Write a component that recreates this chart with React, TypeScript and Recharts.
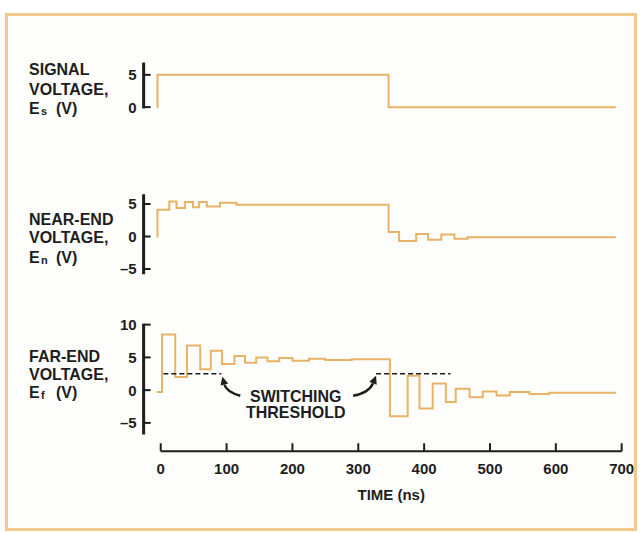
import React from 'react';
import { LineChart, Line, XAxis, YAxis, ReferenceLine, ReferenceDot } from 'recharts';

// ---------------- data ----------------
const timeTicks = [0, 100, 200, 300, 400, 500, 600, 700];

const signalTimes = [-6, -5, 346, 691];
const signalVolts = [0, 5, 0, 0];

const nearTimes = [-6, -5, 13, 24, 37, 49, 58, 70, 90, 115, 346, 362, 388, 406, 426, 446, 466, 691];
const nearVolts = [0, 4.1, 5.4, 4.4, 5.3, 4.5, 5.3, 4.6, 5.2, 4.9, 0.7, -0.7, 0.4, -0.5, 0.3, -0.35, -0.1, -0.1];

const farTimes = [-6, 2, 22, 40, 60, 76, 93, 112, 128, 145, 162, 180, 200, 225, 250, 290, 348, 375, 393, 413, 433, 448, 469, 489, 510, 530, 560, 590, 691];
const farVolts = [-0.3, 8.5, 2.0, 6.8, 3.2, 6.0, 4.0, 5.2, 4.2, 5.0, 4.4, 4.9, 4.5, 4.8, 4.6, 4.7, -4.0, 2.2, -2.8, 1.0, -1.8, 0.2, -1.1, -0.2, -0.8, -0.3, -0.6, -0.4, -0.4];

const signalTicks = [0, 5];
const nearTicks = [-5, 0, 5];
const farTicks = [-5, 0, 5, 10];

const switchingThreshold = 2.5;
const thresholdStarts = [4, 327];
const thresholdEnds = [92, 440];
const annotationTime = 205;
const annotationLines = ['SWITCHING', 'THRESHOLD'];

// ---------------- styling / layout ----------------
const INK = '#1d1d1d';
const TRACE = '#e8b366';
const BORDER = '#f1c98c';
const FONT = "'Liberation Sans', Arial, Helvetica, sans-serif";
const PAGE_W = 642;
const PAGE_H = 533;
const AXIS_X = 143.6;
const RIGHT_GAP = 20.3;
const X_DOMAIN: [number, number] = [-26, 700];

const rows = (ts: number[], vs: number[]) => ts.map((t, i) => ({ t, v: vs[i] }));

const fmt = (v: number) => (v < 0 ? `\u2013${Math.abs(v)}` : String(v));

const YTick = (props: any) => {
  const { x, y, payload } = props;
  return (
    <g>
      <line x1={x} x2={x + 7} y1={y} y2={y} stroke={INK} strokeWidth={2} />
      <text x={x - 7} y={y} dy="0.36em" textAnchor="end" fontFamily={FONT} fontWeight={700} fontSize={15} fill={INK}>
        {fmt(payload.value)}
      </text>
    </g>
  );
};

const XTick = (props: any) => {
  const { x, y, payload } = props;
  return (
    <g>
      <line x1={x} x2={x} y1={y} y2={y - 8} stroke={INK} strokeWidth={2} />
      <text x={x} y={y + 17} dy="0.36em" textAnchor="middle" fontFamily={FONT} fontWeight={700} fontSize={15} fill={INK}>
        {payload.value}
      </text>
    </g>
  );
};

const TimeLabel = (props: any) => {
  const vb = props.viewBox || { x: 0, y: 0, width: 0, height: 0 };
  const frac = (350 - X_DOMAIN[0]) / (X_DOMAIN[1] - X_DOMAIN[0]);
  return (
    <text x={vb.x + vb.width * frac} y={vb.y + 43} dy="0.36em" textAnchor="middle" fontFamily={FONT} fontWeight={700} fontSize={15} fill={INK}>
      TIME (ns)
    </text>
  );
};

const PanelTitle = (props: any) => {
  const { first, sub, ys, chartTop } = props;
  const y = ys.map((v: number) => v - chartTop);
  const common = { fontFamily: FONT, fontWeight: 700, fill: INK } as any;
  return (
    <g>
      <text x={29} y={y[0]} dy="0.36em" fontSize={16} {...common}>{first}</text>
      <text x={29} y={y[1]} dy="0.36em" fontSize={16} {...common}>VOLTAGE,</text>
      <text x={29} y={y[2]} dy="0.36em" fontSize={16} {...common}>E</text>
      <text x={41} y={y[2] + 3} dy="0.36em" fontSize={11} {...common}>{sub}</text>
      <text x={56} y={y[2]} dy="0.36em" fontSize={16} {...common}>(V)</text>
    </g>
  );
};

const LeftArrow = (props: any) => {
  const { cx, cy } = props;
  const hx = cx + 1, hy = cy + 3;
  const tx = cx + 19, ty = cy + 22;
  const qx = cx + 5, qy = cy + 18;
  const dx = hx - qx, dy = hy - qy;
  const len = Math.hypot(dx, dy);
  const ux = dx / len, uy = dy / len;
  const bx = hx - ux * 8, by = hy - uy * 8;
  return (
    <g>
      <path d={`M${tx},${ty} Q${qx},${qy} ${bx},${by}`} fill="none" stroke={INK} strokeWidth={2.5} />
      <path d={`M${hx},${hy} L${bx - uy * 4},${by + ux * 4} L${bx + uy * 4},${by - ux * 4} Z`} fill={INK} />
    </g>
  );
};

const RightArrow = (props: any) => {
  const { cx, cy } = props;
  const hx = cx, hy = cy + 2;
  const tx = cx - 23, ty = cy + 22;
  const qx = cx - 7, qy = cy + 19;
  const dx = hx - qx, dy = hy - qy;
  const len = Math.hypot(dx, dy);
  const ux = dx / len, uy = dy / len;
  const bx = hx - ux * 8, by = hy - uy * 8;
  return (
    <g>
      <path d={`M${tx},${ty} Q${qx},${qy} ${bx},${by}`} fill="none" stroke={INK} strokeWidth={2.5} />
      <path d={`M${hx},${hy} L${bx - uy * 4},${by + ux * 4} L${bx + uy * 4},${by - ux * 4} Z`} fill={INK} />
    </g>
  );
};

const AnnotationText = (props: any) => {
  const { cx, cy } = props;
  return (
    <g>
      {annotationLines.map((s, i) => (
        <text key={s} x={cx} y={cy + i * 16} dy="0.36em" textAnchor="middle" fontFamily={FONT} fontWeight={700} fontSize={16} fill={INK}>
          {s}
        </text>
      ))}
    </g>
  );
};

type PanelProps = {
  zeroY: number;
  ppv: number;
  yDomain: [number, number];
  data: { t: number; v: number }[];
  ticks: number[];
  axisSpan: [number, number];
  first: string;
  sub: string;
  titleYs: number[];
  showX?: boolean;
  extras?: React.ReactNode[];
};

function Panel(p: PanelProps) {
  const plotTop = p.zeroY - p.yDomain[1] * p.ppv;
  const plotH = (p.yDomain[1] - p.yDomain[0]) * p.ppv;
  const xH = p.showX ? 60 : 0;
  const h = plotH + xH;
  return (
    <div style={{ position: 'absolute', left: 0, top: plotTop, width: PAGE_W, height: h }}>
      <LineChart width={PAGE_W} height={h} data={p.data} margin={{ top: 0, right: RIGHT_GAP, bottom: 0, left: 0 }} style={{ overflow: 'visible' }}>
        <XAxis
          type="number"
          dataKey="t"
          domain={X_DOMAIN}
          allowDataOverflow
          ticks={timeTicks}
          interval={0}
          hide={!p.showX}
          height={xH || 1}
          axisLine={false}
          tickLine={false}
          tickSize={0}
          tickMargin={0}
          tick={<XTick />}
          label={p.showX ? <TimeLabel /> : undefined}
        />
        <YAxis
          type="number"
          domain={p.yDomain}
          allowDataOverflow
          ticks={p.ticks}
          interval={0}
          width={AXIS_X}
          axisLine={false}
          tickLine={false}
          tickSize={0}
          tickMargin={0}
          tick={<YTick />}
          label={<PanelTitle first={p.first} sub={p.sub} ys={p.titleYs} chartTop={plotTop} />}
        />
        <ReferenceLine
          segment={[{ x: X_DOMAIN[0], y: p.axisSpan[0] }, { x: X_DOMAIN[0], y: p.axisSpan[1] }]}
          stroke={INK}
          strokeWidth={3}
          ifOverflow="visible"
        />
        {p.showX && (
          <ReferenceLine
            segment={[{ x: timeTicks[0], y: p.yDomain[0] }, { x: timeTicks[timeTicks.length - 1], y: p.yDomain[0] }]}
            stroke={INK}
            strokeWidth={2}
            ifOverflow="visible"
          />
        )}
        <Line type="stepAfter" dataKey="v" stroke={TRACE} strokeWidth={2} dot={false} isAnimationActive={false} />
        {p.extras}
      </LineChart>
    </div>
  );
}

export default function App() {
  const farExtras = [
    ...thresholdStarts.map((s, i) => (
      <ReferenceLine
        key={`thr${i}`}
        segment={[{ x: s, y: switchingThreshold }, { x: thresholdEnds[i], y: switchingThreshold }]}
        stroke={INK}
        strokeWidth={1.6}
        strokeDasharray="5 3"
        ifOverflow="visible"
      />
    )),
    <ReferenceDot key="la" x={thresholdEnds[0]} y={switchingThreshold} r={0} shape={LeftArrow} ifOverflow="visible" />,
    <ReferenceDot key="ra" x={thresholdStarts[1]} y={switchingThreshold} r={0} shape={RightArrow} ifOverflow="visible" />,
    <ReferenceDot key="tx" x={annotationTime} y={-0.95} r={0} shape={AnnotationText} ifOverflow="visible" />,
  ];
  return (
    <div style={{ position: 'absolute', left: 0, top: 0, width: PAGE_W, height: PAGE_H, background: '#fff', overflow: 'hidden' }}>
      <div style={{ position: 'absolute', left: 5, top: 13, width: 632, height: 518, border: `3px solid ${BORDER}`, boxSizing: 'border-box', background: '#fdfdfc' }} />
      <Panel
        zeroY={107.3}
        ppv={6.46}
        yDomain={[-2, 9]}
        data={rows(signalTimes, signalVolts)}
        ticks={signalTicks}
        axisSpan={[-0.2, 6.9]}
        first="SIGNAL"
        sub="s"
        titleYs={[69, 89, 108.5]}
      />
      <Panel
        zeroY={236.3}
        ppv={6.5}
        yDomain={[-8, 9]}
        data={rows(nearTimes, nearVolts)}
        ticks={nearTicks}
        axisSpan={[-5.8, 6.5]}
        first="NEAR-END"
        sub="n"
        titleYs={[219.2, 237.5, 257]}
      />
      <Panel
        zeroY={390.6}
        ppv={6.55}
        yDomain={[-9.33, 13]}
        data={rows(farTimes, farVolts)}
        ticks={farTicks}
        axisSpan={[-6.77, 10.15]}
        first="FAR-END"
        sub="f"
        titleYs={[356.7, 375, 392.8]}
        showX
        extras={farExtras}
      />
    </div>
  );
}
